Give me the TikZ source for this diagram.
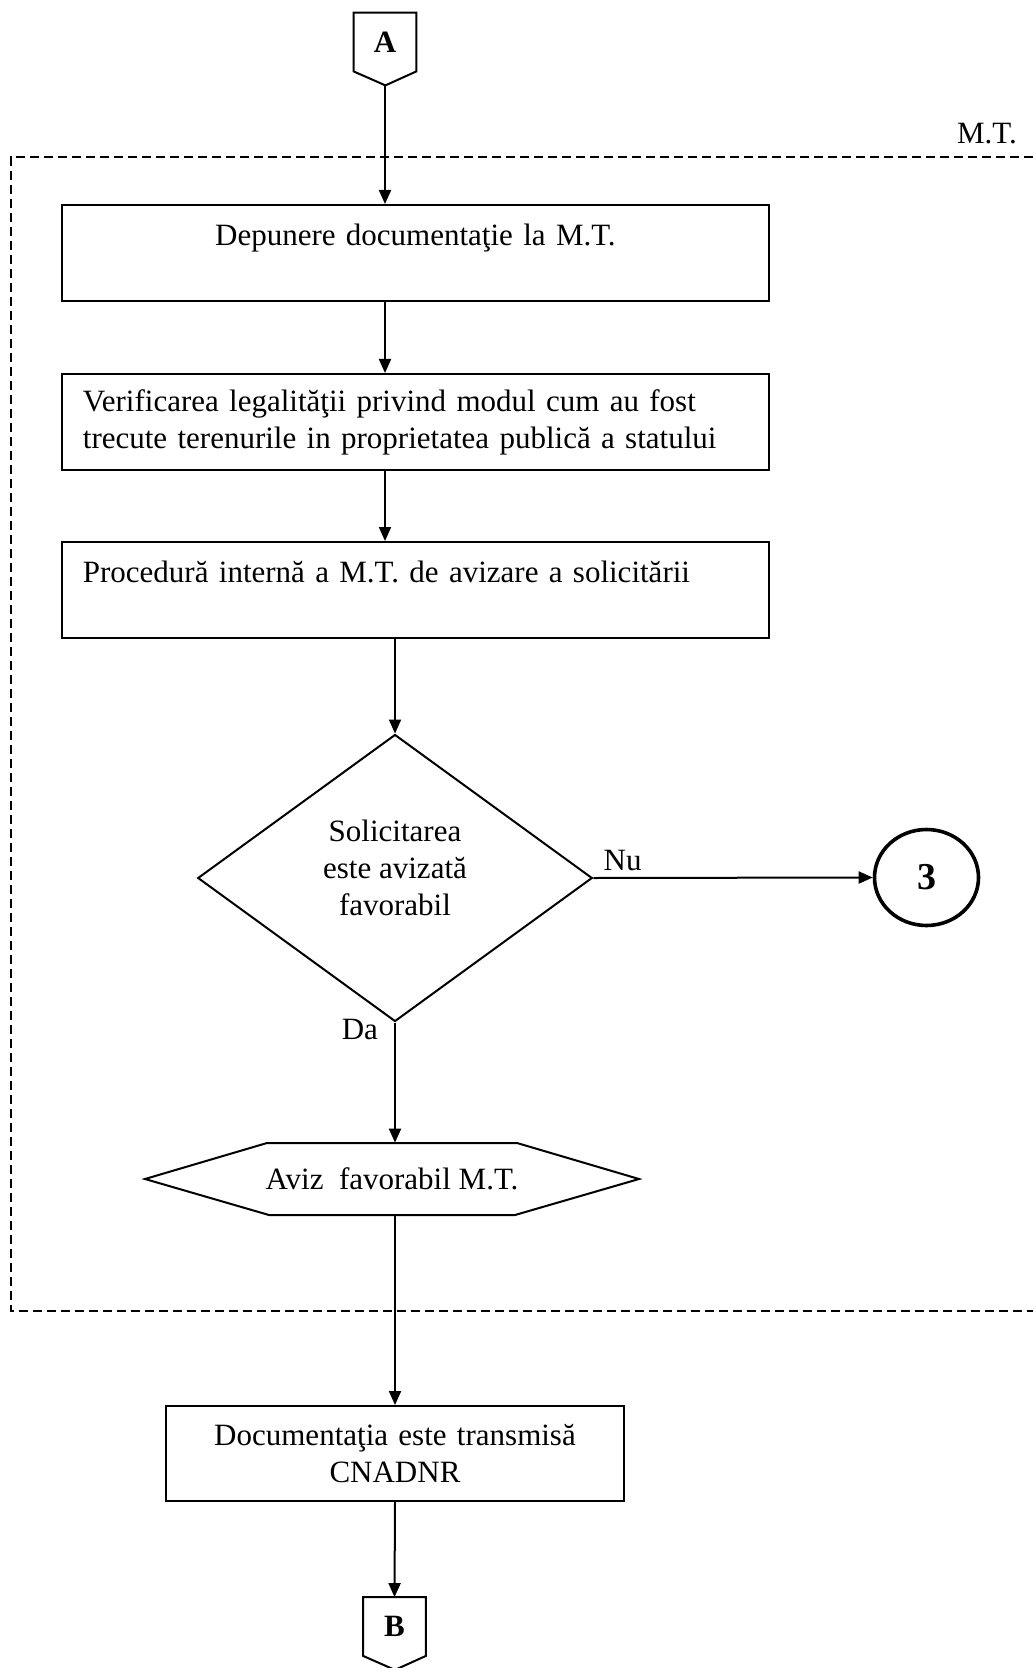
\documentclass[tikz,border=0pt]{standalone}
\usepackage{fontspec}
\setmainfont{Liberation Serif}
\usetikzlibrary{arrows.meta,shapes.geometric}

\begin{document}
\begin{tikzpicture}[x=0.5pt,y=-0.5pt,
        font=\fontsize{15.5}{18.5}\selectfont,
        box/.style={draw,line width=1pt,minimum height=48pt,inner xsep=10.5pt},
        conn/.style={minimum width=31pt,minimum height=29pt,inner sep=0,font=\fontsize{15.5}{18.5}\selectfont\bfseries},
        arr/.style={line width=1pt,-{Triangle[length=7pt,width=6pt]}},
        lbl/.style={inner sep=0}]
                \useasboundingbox (0,0) rectangle (1033,1668);
                \draw[line width=1pt,dash pattern=on 4.5pt off 2.5pt] (1033,157.5) -- (10.5,157.5) -- (10.5,1311) -- (1033,1311);
                \node[lbl] (mt) at (987,134) {M.T.};

                \node[conn] (A) at (385,42) {A};
                \draw[line width=1pt] (A.north west) -- (A.north east) -- (A.south east) -- ++(-31,14) -- (A.south west) -- cycle;
                \coordinate (Atip) at ([yshift=-7pt]A.south);

                \node[box,align=center,text width=332.5pt] (dep) at (415.4,253) {Depunere documentaţie la M.T.\\\mbox{}};
                \node[box,align=left,text width=332.5pt] (ver) at (415.4,422) {Verificarea legalităţii privind modul cum au fost\\trecute terenurile in proprietatea publică a statului};
                \node[box,align=left,text width=332.5pt] (proc) at (415.4,590) {Procedură internă a M.T. de avizare a solicitării\\\mbox{}};

                \node[draw,diamond,line width=1pt,minimum width=197.25pt,minimum height=143.5pt,inner sep=0,align=center] (q) at (395,878) {Solicitarea\\este avizată\\favorabil\\[-7.9pt]\mbox{}};
                \node[draw,ellipse,line width=1.8pt,minimum width=52pt,minimum height=48pt,inner sep=0,font=\fontsize{19}{22}\selectfont\bfseries] (c3) at (926.5,877.5) {3};

                \node[minimum height=36pt,inner sep=0] (hex) at (392,1179) {Aviz\ \ favorabil M.T.};
                \draw[line width=1pt] ([xshift=-123.5pt]hex.center) -- ([xshift=-62.5pt,yshift=18pt]hex.center) -- ([xshift=62.5pt,yshift=18pt]hex.center) -- ([xshift=123.5pt]hex.center) -- ([xshift=61.5pt,yshift=-18pt]hex.center) -- ([xshift=-61.5pt,yshift=-18pt]hex.center) -- cycle;

                \node[box,align=center,text width=208.25pt,minimum height=47.5pt] (tr) at (395,1453.5) {Documentaţia este transmisă\\CNADNR};

                \node[conn] (B) at (394.5,1626.5) {B};
                \draw[line width=1pt] (B.north west) -- (B.north east) -- (B.south east) -- ++(-31,14) -- (B.south west) -- cycle;

                \draw[arr] (Atip) -- (Atip |- dep.north);
                \draw[arr] (Atip |- dep.south) -- (Atip |- ver.north);
                \draw[arr] (Atip |- ver.south) -- (Atip |- proc.north);
                \draw[arr] (q.north |- proc.south) -- (q.north);
                \draw[arr] (q.east) -- node[lbl,pos=0.105,above=3pt] {Nu} (c3.west);
                \draw[arr] (q.south) -- node[lbl,pos=0.06,left=8pt] {Da} (q.south |- hex.north);
                \draw[arr] (q.south |- hex.south) -- (q.south |- tr.north);
                \draw[arr] (q.south |- tr.south) -- (B.north);
\end{tikzpicture}
\end{document}
